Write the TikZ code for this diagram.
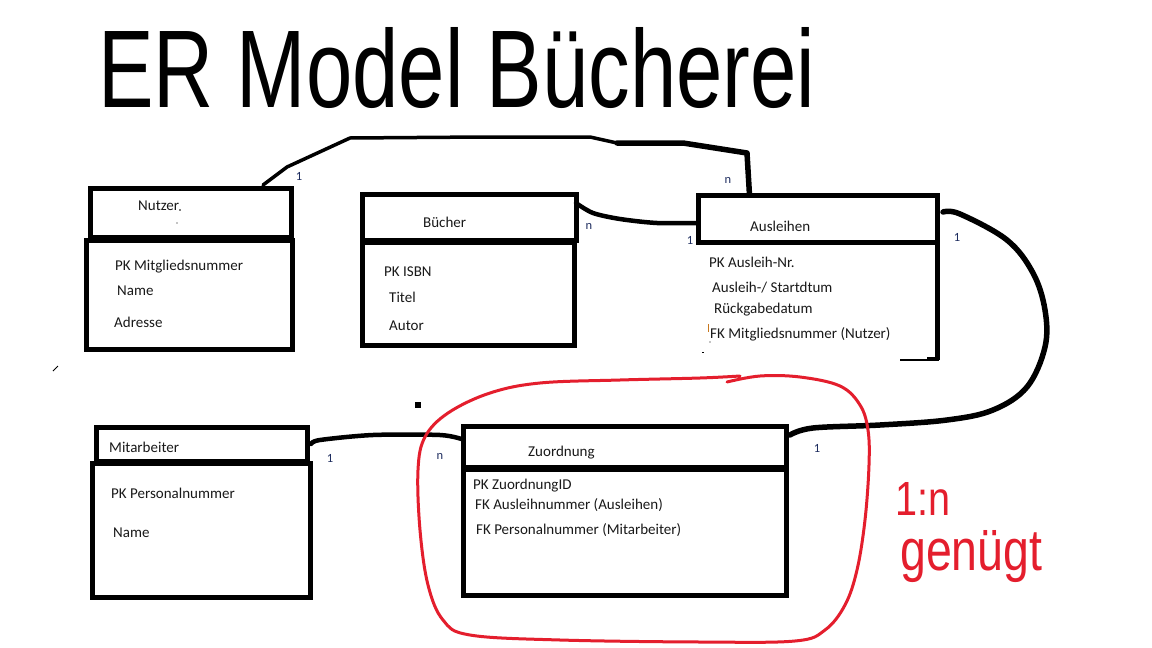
\documentclass[tikz,border=0pt]{standalone}
\usepackage{fontspec}
\usepackage{graphicx}
\setmainfont{Carlito}
\newfontfamily\handfont{Liberation Sans}
\definecolor{inkred}{RGB}{228,30,45}
\definecolor{labcol}{RGB}{30,45,95}
\definecolor{txt}{RGB}{25,25,25}
\begin{document}
\begin{tikzpicture}[x=1pt,y=-1pt,
  ent/.style={draw=black,line width=5pt,rectangle,inner sep=0pt,outer sep=0pt},
  ghost/.style={rectangle,inner sep=0pt,outer sep=0pt},
  attr/.style={anchor=west,inner sep=0pt,text=txt,font=\fontsize{15}{18}\selectfont},
  card/.style={inner sep=0pt,text=labcol,font=\fontsize{12.5}{14}\selectfont},
  rel/.style={draw=black,line width=4.5pt,line cap=round,line join=round},
  redink/.style={draw=inkred,line width=3pt,line cap=round,line join=round}]
\useasboundingbox (0,0) rectangle (1152,648);
\fill[white] (0,0) rectangle (1152,648);

% title
\node[anchor=base west,inner sep=0pt] (title) at (98,107)
  {\resizebox{717pt}{80pt}{\handfont ER Model Bücherei}};

% Nutzer
\node[ent,minimum width=201pt,minimum height=49pt] (nuth) at (190.5,212.5) {};
\node[ent,minimum width=206pt,minimum height=109pt] (nutb) at (189,294.5) {};
\node[attr] (nutt) at (138,206) {Nutzer};
\fill (180,210) circle (0.8);
\fill (177,223) circle (0.6);
\node[attr] (nut1) at (115,267) {PK Mitgliedsnummer};
\node[attr] (nut2) at (117,291) {Name};
\node[attr] (nut3) at (114,322) {Adresse};

% Buecher
\node[ent,minimum width=214pt,minimum height=46pt] (buh) at (469,217) {};
\node[ent,minimum width=212pt,minimum height=103pt] (bub) at (468,293.5) {};
\node[attr] (but) at (423,222) {Bücher};
\node[attr] (bu1) at (384,272) {PK ISBN};
\node[attr] (bu2) at (389,297) {Titel};
\node[attr] (bu3) at (389,326) {Autor};

% Ausleihen
\node[ent,minimum width=239pt,minimum height=47pt] (ausleih) at (817.5,218.5) {};
\node[ghost,minimum width=239pt,minimum height=118pt] (ausb) at (817.5,301) {};
\draw[line width=5pt] (ausb.north east) -- (ausb.south east);
\draw[line width=1.2pt] ([xshift=-37pt]ausb.south east) -- (ausb.south east);
\draw[line width=4pt] ([xshift=-10pt,yshift=1.5pt]ausb.south east) -- ([xshift=2pt,yshift=1.5pt]ausb.south east);
\node[attr] (aut) at (750,226) {Ausleihen};
\node[attr] (au1) at (709,262) {PK Ausleih-Nr.};
\node[attr] (au2) at (712,288) {Ausleih-/ Startdtum};
\node[attr] (au3) at (714,310) {Rückgabedatum};
\node[attr] (au4) at (710,334) {FK Mitgliedsnummer (Nutzer)};
\draw[draw={rgb,255:red,200;green,120;blue,30},line width=0.8pt] (708.5,324) -- (708.5,332);
\fill (710,342) circle (0.6);
\draw[line width=0.6pt] (702,352) -- (704,352);

% Mitarbeiter
\node[ent,minimum width=211pt,minimum height=34pt] (mith) at (201.5,444) {};
\node[ent,minimum width=218pt,minimum height=134pt] (mitb) at (201,530) {};
\node[attr] (mitt) at (109,447) {Mitarbeiter};
\node[attr] (mit1) at (111,493) {PK Personalnummer};
\node[attr] (mit2) at (113,533) {Name};

% Zuordnung
\node[ent,minimum width=323pt,minimum height=41pt] (zuh) at (624.5,446.5) {};
\node[ent,minimum width=323pt,minimum height=126pt] (zub) at (624.5,532) {};
\node[attr] (zut) at (528,453) {Zuordnung};
\node[attr] (zu1) at (473,486) {PK ZuordnungID};
\node[attr] (zu2) at (475,505) {FK Ausleihnummer (Ausleihen)};
\node[attr] (zu3) at (476,530) {FK Personalnummer (Mitarbeiter)};

% stray marks
\draw[line width=1pt] (53,371) -- (58,366);
\fill (415,402) rectangle (421,408);

% relationship Nutzer - Ausleihen
\coordinate (r1s) at ([xshift=-28pt,yshift=3pt]nuth.north east);
\coordinate (r1e) at ([xshift=-68pt]ausleih.north);
\draw[rel,line width=3.5pt] (r1s) -- (287,167) -- (350,138) -- (483,137) -- (590,137) -- (617,143);
\draw[rel,line width=5.5pt] (617,143) -- (683,143) -- (747,153) -- (r1e);
\node[card] (c1a) at (299,176) {1};
\node[card] (c1b) at (728,180) {n};

% relationship Buecher - Ausleihen
\coordinate (r2s) at ([yshift=-9pt]buh.north east);
\coordinate (r2e) at ([yshift=-4.5pt]ausleih.west);
\draw[rel] plot[smooth,tension=0.5] coordinates {(r2s) (593,213) (620,219) (657,223) (r2e)};
\node[card] (c2a) at (589,226) {n};
\node[card] (c2b) at (690,240) {1};

% relationship Ausleihen - Zuordnung
\coordinate (r3s) at ([xshift=6pt,yshift=-17pt]ausleih.north east);
\coordinate (r3e) at ([xshift=4pt,yshift=-9pt]zuh.north east);
\draw[rel,line width=5.5pt] plot[smooth,tension=0.6] coordinates {(r3s) (960,214) (1007,240) (1033,273) (1045,310) (1045,347) (1027,387) (993,410) (947,420) (880,425) (813,428) (r3e)};
\node[card] (c3a) at (957,237) {1};
\node[card] (c3b) at (817,448) {1};

% relationship Mitarbeiter - Zuordnung
\coordinate (r4s) at ([xshift=4pt]mith.east);
\coordinate (r4e) at ([yshift=7pt]zuh.west);
\draw[rel] plot[smooth,tension=0.5] coordinates {(r4s) (320,440) (373,435) (440,435) (r4e)};
\node[card] (c4a) at (330,458) {1};
\node[card] (c4b) at (440,456) {n};

% red remark
\draw[redink] plot[smooth,tension=0.6] coordinates {(727,382) (760,376) (800,377) (840,386) (860,405) (868,430) (869,465) (865,520) (857,570) (845,605) (825,630) (795,641) (700,642) (560,640) (470,635) (443,620) (428,585) (420,530) (418,470) (425,437) (448,413) (490,393) (540,383) (620,380) (700,378) (740,376)};
\node[anchor=base west,inner sep=0pt,text=inkred] (rem1) at (895,515)
  {\resizebox{55pt}{33pt}{\handfont 1:n}};
\node[anchor=base west,inner sep=0pt,text=inkred] (rem2) at (900,570)
  {\resizebox{142pt}{40pt}{\handfont genügt}};
\end{tikzpicture}
\end{document}
